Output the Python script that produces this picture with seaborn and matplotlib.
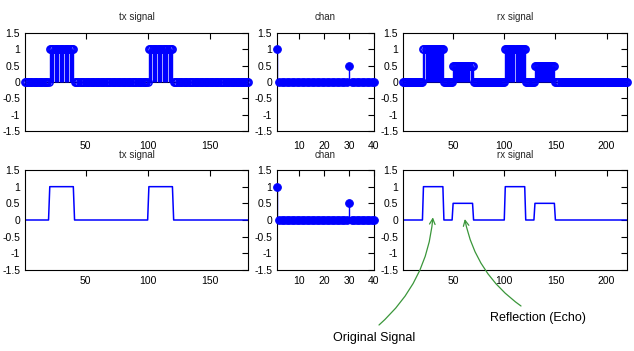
import numpy as np
import matplotlib
matplotlib.use("Agg")
import matplotlib.pyplot as plt
import seaborn as sns

# run-length segments: (first sample, last sample, level)
tx_segments = [(1, 20, 0.0), (21, 40, 1.0), (41, 100, 0.0), (101, 120, 1.0), (121, 181, 0.0)]
rx_segments = [(1, 20, 0.0), (21, 40, 1.0), (41, 49, 0.0), (50, 69, 0.5), (70, 100, 0.0),
               (101, 120, 1.0), (121, 129, 0.0), (130, 149, 0.5), (150, 220, 0.0)]
chan_len = 40
chan_taps = [1, 30]
chan_gains = [1.0, 0.5]

yticks = [-1.5, -1, -0.5, 0, 0.5, 1, 1.5]
ytick_labels = ["-1.5", "-1", "-0.5", "0", "0.5", "1", "1.5"]
tx_xticks = [50, 100, 150]
chan_xticks = [10, 20, 30, 40]
rx_xticks = [50, 100, 150, 200]


def expand(segments):
    return np.concatenate([np.full(e - s + 1, v) for s, e, v in segments])


tx = expand(tx_segments)
rx = expand(rx_segments)
n_tx = np.arange(1, len(tx) + 1)
n_rx = np.arange(1, len(rx) + 1)
n_chan = np.arange(1, chan_len + 1)
chan = np.zeros(chan_len)
for k, g in zip(chan_taps, chan_gains):
    chan[k - 1] = g

sns.set_style("white")
plt.rcParams["font.family"] = ["Liberation Sans", "DejaVu Sans"]
plt.rcParams["axes.linewidth"] = 0.8
plt.rcParams["axes.edgecolor"] = "black"

fig = plt.figure(figsize=(6.34, 3.51), dpi=100)
W, H = 634.0, 351.0


def make_ax(x0, y0, x1, y1):
    return fig.add_axes([x0 / W, 1 - y1 / H, (x1 - x0) / W, (y1 - y0) / H])


def style(ax, xlim, xticks, title, xpad):
    ax.set_xlim(*xlim)
    ax.set_ylim(-1.5, 1.5)
    ax.set_xticks(xticks)
    ax.set_yticks(yticks)
    ax.set_yticklabels(ytick_labels)
    ax.tick_params(direction="in", top=True, right=True, length=4, width=0.8,
                   labelsize=7.5, colors="black")
    ax.tick_params(axis="x", pad=xpad)
    ax.set_title(title, fontsize=7, pad=9)
    ax.set_xlabel("")
    ax.set_ylabel("")
    for s in ax.spines.values():
        s.set_visible(True)
        s.set_color("black")


def stem(ax, n, y, filled, ms):
    ax.axhline(0, color="black", lw=0.8, zorder=1)
    ax.vlines(n, 0, y, color="blue", lw=1, zorder=2)
    if filled:
        kw = dict(mfc="blue", mec="blue")
    else:
        kw = dict(mfc="none", mec="blue", mew=1.1)
    sns.lineplot(x=n, y=y, ax=ax, marker="o", linestyle="", ms=ms, estimator=None,
                 clip_on=False, zorder=3, **kw)


# top row: stems
ax1 = make_ax(25, 33, 248, 131)
stem(ax1, n_tx, tx, False, 5.2)
style(ax1, (1, 181), tx_xticks, "tx signal", 7)

ax2 = make_ax(277, 33, 374, 131)
stem(ax2, n_chan, chan, True, 5.5)
style(ax2, (1, 40), chan_xticks, "chan", 7)

ax3 = make_ax(403, 33, 627, 131)
stem(ax3, n_rx, rx, False, 5.2)
style(ax3, (1, 220), rx_xticks, "rx signal", 7)

# bottom row: lines + stem
ax4 = make_ax(25, 170, 248, 270)
sns.lineplot(x=n_tx, y=tx, ax=ax4, color="blue", lw=1.1, estimator=None)
style(ax4, (1, 181), tx_xticks, "tx signal", 4.5)

ax5 = make_ax(277, 170, 374, 270)
stem(ax5, n_chan, chan, True, 5.5)
style(ax5, (1, 40), chan_xticks, "chan", 4.5)

ax6 = make_ax(403, 170, 627, 270)
sns.lineplot(x=n_rx, y=rx, ax=ax6, color="blue", lw=1.1, estimator=None)
style(ax6, (1, 220), rx_xticks, "rx signal", 4.5)

# annotations
green = "#3a963a"
fig.text(374 / W, 1 - 338 / H, "Original Signal", ha="center", va="center",
         fontsize=9, color="black")
fig.text(538 / W, 1 - 318 / H, "Reflection (Echo)", ha="center", va="center",
         fontsize=9, color="black")
ax6.annotate("", xy=(30.2, 0.08), xycoords="data",
             xytext=(379 / W, 1 - 325 / H), textcoords="figure fraction",
             arrowprops=dict(arrowstyle="->", color=green, lw=0.9,
                             connectionstyle="arc3,rad=0.2", shrinkA=0, shrinkB=0),
             annotation_clip=False)
ax6.annotate("", xy=(61.4, 0.03), xycoords="data",
             xytext=(521 / W, 1 - 306 / H), textcoords="figure fraction",
             arrowprops=dict(arrowstyle="->", color=green, lw=0.9,
                             connectionstyle="arc3,rad=-0.2", shrinkA=0, shrinkB=0),
             annotation_clip=False)

fig.savefig("out.png", dpi=100)
